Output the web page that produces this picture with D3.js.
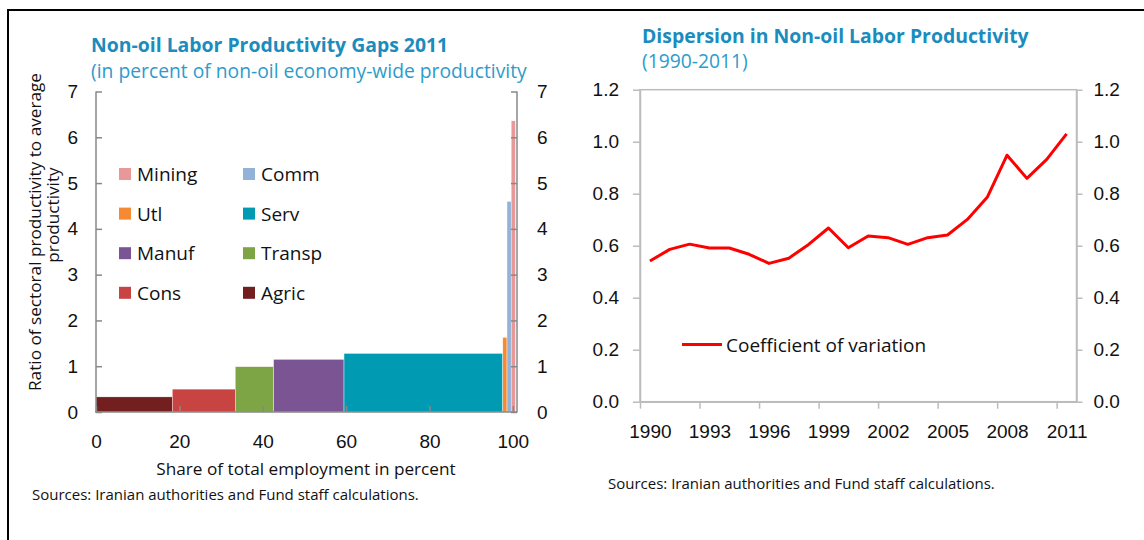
<!DOCTYPE html>
<html>
<head>
<meta charset="utf-8">
<script src="https://cdn.jsdelivr.net/npm/d3@7"></script>
<style>
body { margin: 0; background: #fff; }
svg { font-family: "Open Sans", "Noto Sans", sans-serif; }
.axisL path, .axisL line { stroke: #888; stroke-width: 1.5; }
.axisR path, .axisR line { stroke: #bcbcbc; stroke-width: 1.5; }
.tick text { font-size: 19px; fill: #111; }
.ttl { font-weight: bold; font-size: 19.4px; fill: #1a8cbd; }
.sub { font-size: 19.3px; fill: #2c9ccb; }
.lbl { font-size: 19px; fill: #111; }
.axt { font-size: 17.2px; fill: #111; }
.src { font-size: 15px; fill: #111; }
</style>
</head>
<body>
<svg id="chart" width="1144" height="540"></svg>
<script>
// left panel: sectors in order along the x axis
var sectors = ["Agric", "Cons", "Transp", "Manuf", "Serv", "Utl", "Comm", "Mining"];
var shares  = [18.3, 15.1, 9.2, 16.9, 38.1, 1.0, 1.0, 1.0];      // share of employment, %
var ratios  = [0.33, 0.50, 0.99, 1.15, 1.28, 1.63, 4.60, 6.36];  // productivity ratio
var colors  = ["#731f1f", "#c84443", "#7ea545", "#7b5593", "#009ab3", "#f68a33", "#92b2d8", "#e89899"];
var legendOrder = ["Mining", "Comm", "Utl", "Serv", "Manuf", "Transp", "Cons", "Agric"];
var xTicksL = [0, 20, 40, 60, 80, 100];
var yTicksL = [0, 1, 2, 3, 4, 5, 6, 7];

// right panel
var years = d3.range(1990, 2012);
var cv = [0.541, 0.586, 0.606, 0.591, 0.591, 0.567, 0.532, 0.552, 0.605, 0.668, 0.592,
          0.637, 0.631, 0.605, 0.631, 0.641, 0.701, 0.786, 0.948, 0.859, 0.932, 1.030];
var yearTicks = [1990, 1993, 1996, 1999, 2002, 2005, 2008, 2011];
var yTicksR = [0, 0.2, 0.4, 0.6, 0.8, 1.0, 1.2];

var svg = d3.select("#chart");

// outer frame
svg.append("path").attr("d", "M8,540V10H1144").attr("fill", "none").attr("stroke", "#000").attr("stroke-width", 2);

// ---------- left chart ----------
var xL = d3.scaleLinear().domain([0, 101]).range([96, 517]);
var yL = d3.scaleLinear().domain([0, 7]).range([412, 91.5]);
var color = d3.scaleOrdinal().domain(sectors).range(colors);

var starts = [];
shares.reduce(function(acc, s, i) { starts[i] = acc; return acc + s; }, 0);
var barData = sectors.map(function(s, i) { return {name: s, x0: starts[i], x1: starts[i] + shares[i], v: ratios[i]}; });

svg.append("g").selectAll("rect").data(barData).enter().append("rect")
    .attr("x", d => xL(d.x0))
    .attr("width", d => xL(d.x1) - xL(d.x0))
    .attr("y", d => yL(d.v))
    .attr("height", d => yL(0) - yL(d.v))
    .attr("fill", d => color(d.name))
    .attr("stroke", "#fff").attr("stroke-width", 0.4);

svg.append("g").attr("class", "axisL").attr("transform", "translate(0,412)")
    .call(d3.axisBottom(xL).tickValues(xTicksL).tickSizeInner(-6).tickSizeOuter(0).tickPadding(23));
svg.append("g").attr("class", "axisL").attr("transform", "translate(96,0)")
    .call(d3.axisLeft(yL).tickValues(yTicksL).tickFormat(d3.format("d")).tickSizeInner(-6).tickSizeOuter(0).tickPadding(18));
svg.append("g").attr("class", "axisL").attr("transform", "translate(517,0)")
    .call(d3.axisRight(yL).tickValues(yTicksL).tickFormat(d3.format("d")).tickSizeInner(-6).tickSizeOuter(0).tickPadding(20));
svg.selectAll(".axisL .domain").attr("d", function() {
    return d3.select(this.parentNode).attr("transform") == "translate(0,412)" ? "M95,0H517.5" : "M0,91.5V412";
});

// legend
var lg = svg.append("g").selectAll("g").data(legendOrder).enter().append("g")
    .attr("transform", (d, i) => "translate(" + (i % 2 ? 243 : 119) + "," + (174 + Math.floor(i / 2) * 39.6) + ")");
lg.append("rect").attr("x", 0).attr("y", -6).attr("width", 12).attr("height", 12).attr("fill", d => color(d));
lg.append("text").attr("class", "lbl").attr("x", 18).attr("y", 7).text(d => d);

svg.append("text").attr("class", "ttl").attr("x", 91).attr("y", 52).text("Non-oil Labor Productivity Gaps 2011");
svg.append("text").attr("class", "sub").attr("x", 91).attr("y", 78).text("(in percent of non-oil economy-wide productivity");
svg.append("text").attr("class", "axt").attr("transform", "translate(41,232) rotate(-90)").attr("text-anchor", "middle")
    .text("Ratio of sectoral productivity to average");
svg.append("text").attr("class", "axt").attr("transform", "translate(59,215) rotate(-90)").attr("text-anchor", "middle")
    .text("productivity");
svg.append("text").attr("class", "axt").attr("x", 306).attr("y", 475).attr("text-anchor", "middle")
    .text("Share of total employment in percent");
svg.append("text").attr("class", "src").attr("x", 32).attr("y", 500).text("Sources: Iranian authorities and Fund staff calculations.");

// ---------- right chart ----------
var xR = d3.scaleLinear().domain([1990, 2012]).range([640, 1076.5]);
var yR = d3.scaleLinear().domain([0, 1.2]).range([401.7, 89.7]);
var half = (xR(1991) - xR(1990)) / 2;

svg.append("rect").attr("x", 640).attr("y", 89.7).attr("width", 436.5).attr("height", 312)
    .attr("fill", "none").attr("stroke", "#bcbcbc").attr("stroke-width", 1.5);

var bx = svg.append("g").attr("class", "axisR").attr("transform", "translate(0,401.7)")
    .call(d3.axisBottom(xR).tickValues(yearTicks).tickFormat(d3.format("d")).tickSizeInner(7).tickSizeOuter(0).tickPadding(16));
bx.selectAll(".tick text").attr("x", half);
svg.append("g").attr("class", "axisR").attr("transform", "translate(640,0)")
    .call(d3.axisLeft(yR).tickValues(yTicksR).tickFormat(d3.format(".1f")).tickSizeInner(7).tickSizeOuter(0).tickPadding(14));
svg.append("g").attr("class", "axisR").attr("transform", "translate(1076.5,0)")
    .call(d3.axisRight(yR).tickValues(yTicksR).tickFormat(d3.format(".1f")).tickSizeInner(6).tickSizeOuter(0).tickPadding(11));

svg.append("path").datum(cv)
    .attr("fill", "none").attr("stroke", "#ff0000").attr("stroke-width", 3).attr("stroke-linejoin", "round")
    .attr("d", d3.line().x((d, i) => xR(years[i]) + half).y(d => yR(d)));

svg.append("line").attr("x1", 682).attr("x2", 722).attr("y1", 344.5).attr("y2", 344.5)
    .attr("stroke", "#ff0000").attr("stroke-width", 3);
svg.append("text").attr("class", "lbl").attr("x", 726).attr("y", 352).text("Coefficient of variation");

svg.append("text").attr("class", "ttl").attr("x", 642).attr("y", 43).text("Dispersion in Non-oil Labor Productivity");
svg.append("text").attr("class", "sub").attr("x", 642).attr("y", 68).text("(1990-2011)");
svg.append("text").attr("class", "src").attr("x", 608).attr("y", 489).text("Sources: Iranian authorities and Fund staff calculations.");
</script>
</body>
</html>
